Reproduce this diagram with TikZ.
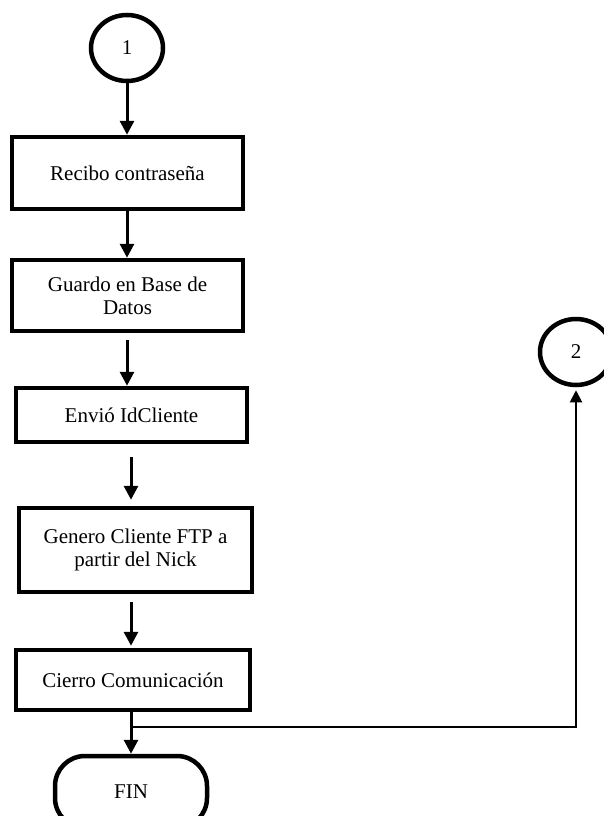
\documentclass[tikz,border=0pt]{standalone}
\usepackage{fontspec}
\setmainfont{Liberation Serif}
\usetikzlibrary{arrows.meta,positioning,shapes.geometric}
\tikzset{
  caja/.style={draw, line width=4.5pt, minimum width=231pt, align=center, inner sep=2pt},
  conector/.style={draw, ellipse, line width=4.5pt, minimum width=72pt, minimum height=66pt, inner sep=0pt},
  terminal/.style={draw, line width=4.5pt, rounded corners=30pt, minimum width=152pt, minimum height=72pt},
  flecha/.style={line width=3pt, -{Triangle[length=14pt,width=14pt]}},
  rama/.style={line width=2pt, -{Triangle[length=12pt,width=12pt]}}
}
\begin{document}
\begin{tikzpicture}[x=1pt, y=-1pt, font=\fontsize{21}{23}\selectfont]
\useasboundingbox (0,0) rectangle (603,816);
% conectores de pagina
\node[conector] (uno) at (127,48) {1};
\node[conector] (dos) at (576,352) {2};
% procesos
\node[caja, minimum height=72pt] (recibo) at (127.5,173) {Recibo contraseña};
\node[caja, minimum height=71pt] (guardo) at (127.5,295.5) {Guardo en Base de\\Datos};
\node[caja, minimum height=54pt] (envio) at (131.5,415) {Envió IdCliente};
\node[caja, minimum height=84pt, minimum width=233pt] (genero) at (135.5,550) {Genero Cliente FTP a\\partir del Nick};
\node[caja, minimum height=60pt, minimum width=234pt] (cierro) at (133,680) {Cierro Comunicación};
\node[terminal] (fin) at (131,792) {FIN};
% flujo principal
\coordinate (colA) at (127,0);
\coordinate (colB) at (131,0);
\draw[flecha] (uno.south -| colA) -- (recibo.north -| colA);
\draw[flecha] (recibo.south -| colA) -- (guardo.north -| colA);
\draw[flecha, shorten <=7pt] (guardo.south -| colA) -- (envio.north -| colA);
\draw[flecha, shorten <=13pt, shorten >=6pt] (envio.south -| colB) -- (genero.north -| colB);
\draw[flecha, shorten <=8pt, shorten >=2pt] (genero.south -| colB) -- (cierro.north -| colB);
\draw[flecha] (cierro.south -| colB) -- (fin.north -| colB);
% salida hacia el conector 2
\coordinate (nudo) at (131,727);
\draw[rama, shorten >=3pt] (nudo) -| (dos.south);
\end{tikzpicture}
\end{document}
